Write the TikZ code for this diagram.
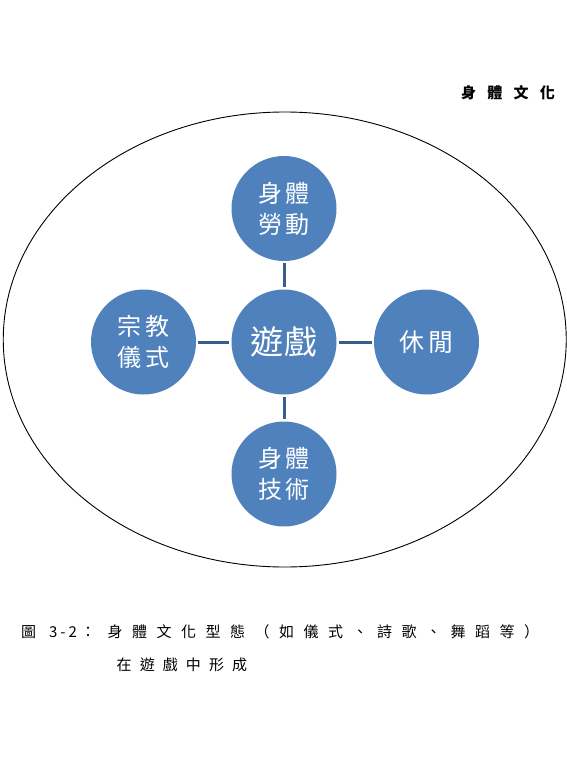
\documentclass[tikz,border=0pt]{standalone}
\usepackage{fontspec}
\setmainfont{Noto Sans CJK TC}
\newfontfamily\cjk{Noto Sans CJK TC}
\makeatletter
\newcommand\pitched[2]{\@tfor\pc:=#2\do{\makebox[#1][c]{\pc}}}
\makeatother
\definecolor{bubblefill}{HTML}{4F81BD}
\definecolor{connline}{HTML}{385D8A}
\tikzset{
  bubble/.style={circle, fill=bubblefill, draw=none, minimum size=105pt, inner sep=0pt, text=white, align=center},
  twoline/.style={font=\fontsize{24}{31}\selectfont},
  conn/.style={draw=connline, line width=3pt, shorten >=2pt, shorten <=2pt},
  captxt/.style={inner sep=0pt, text=black, font=\fontsize{15}{15}\selectfont},
}
\begin{document}
\begin{tikzpicture}[x=1pt, y=-1pt]
\useasboundingbox (0,0) rectangle (567,760);
% outer ellipse
\draw[line width=0.9pt, black] (284.75,339.5) ellipse [x radius=281.5pt, y radius=227.5pt];
% top-right label
\node[captxt, font=\fontsize{15}{15}\selectfont\bfseries] (title) at (508,93) {\pitched{26.3pt}{身體文化}};
% bubbles
\node[bubble, font=\fontsize{33}{36}\selectfont] (game) at (284,342) {\pitched{35pt}{遊戲}};
\node[bubble, twoline] (labor) at (284,208.5) {\pitched{28pt}{身體}\\\pitched{28pt}{勞動}};
\node[bubble, twoline] (ritual) at (143.5,342) {\pitched{28pt}{宗教}\\\pitched{28pt}{儀式}};
\node[bubble, font=\fontsize{25}{30}\selectfont] (leisure) at (426.5,342) {\pitched{30pt}{休閒}};
\node[bubble, twoline] (skill) at (284,474) {\pitched{28pt}{身體}\\\pitched{28pt}{技術}};
% connectors
\draw[conn] (game) -- (labor);
\draw[conn] (game) -- (ritual);
\draw[conn] (game) -- (leisure);
\draw[conn] (game) -- (skill);
% caption
\node[captxt] (capfig) at (28.5,632) {圖};
\node[captxt] (capnum) at (63,632) {\pitched{9.8pt}{3-2}};
\node[captxt] (capcolon) at (88,632) {：};
\node[captxt, anchor=west] (capline1) at (102.75,632) {\pitched{24.5pt}{身體文化型態（如儀式、詩歌、舞蹈等）}};
\node[captxt, anchor=west] (capline2) at (112.45,665) {\pitched{23.1pt}{在遊戲中形成}};
\end{tikzpicture}
\end{document}
